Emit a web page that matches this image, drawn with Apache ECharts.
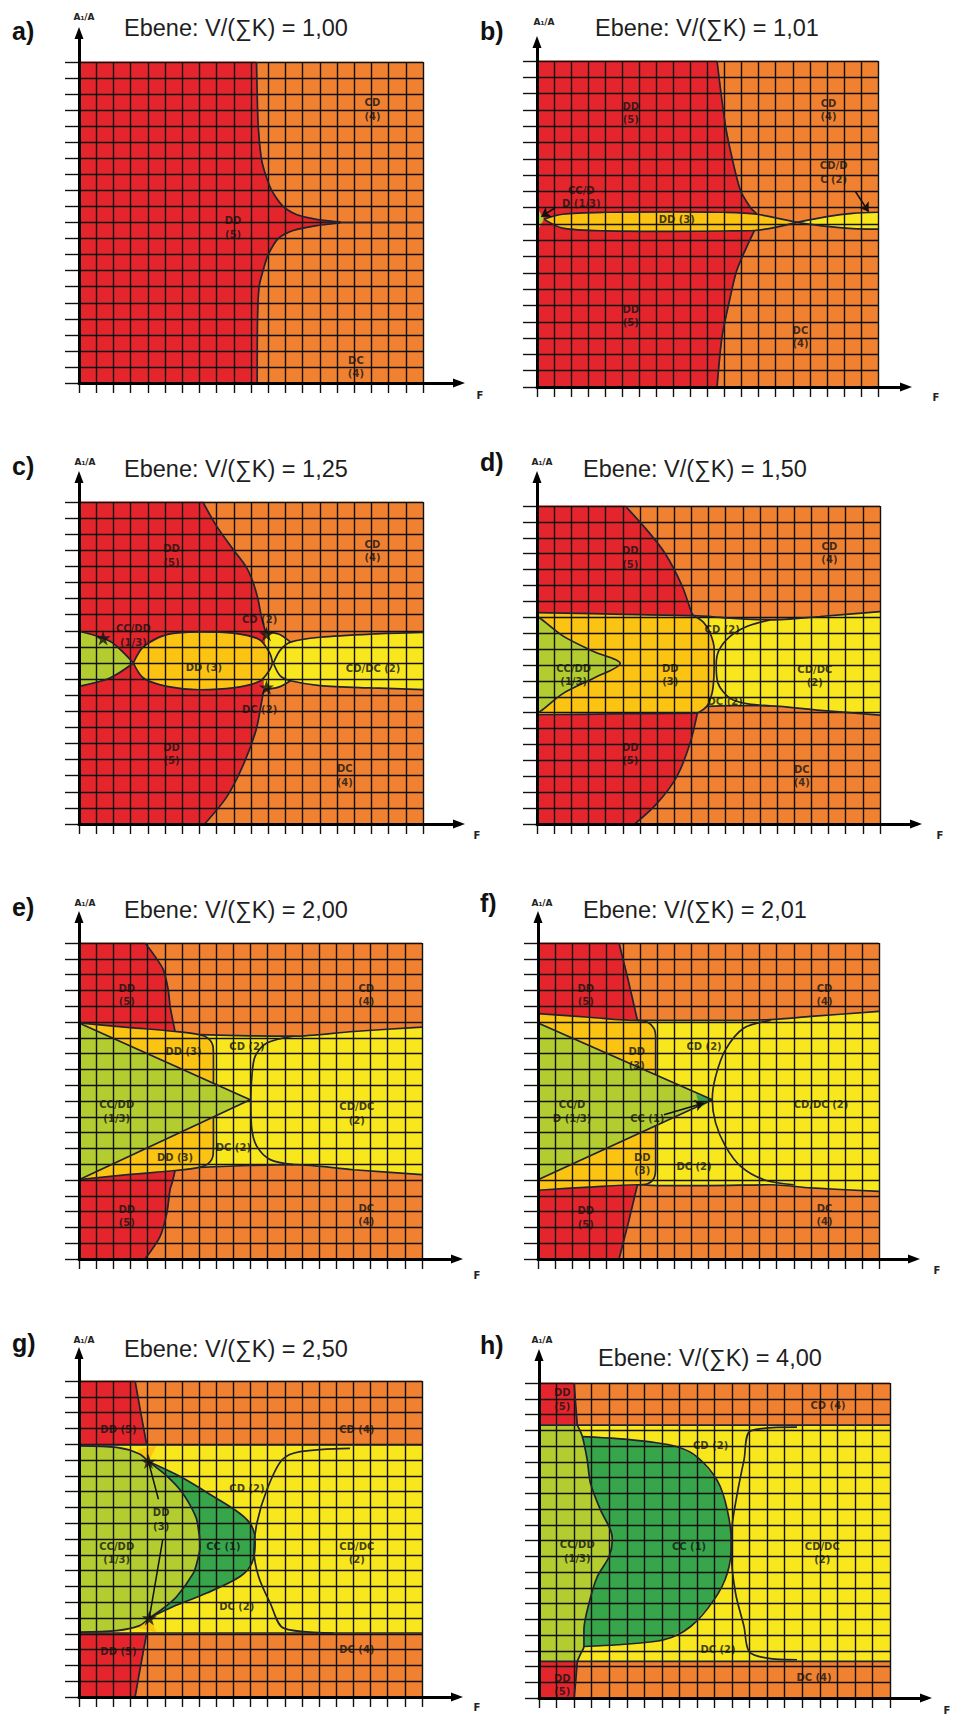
<!DOCTYPE html>
<html><head><meta charset="utf-8">
<script src="https://cdn.jsdelivr.net/npm/echarts@6.0.0/dist/echarts.min.js"></script>
<style>html,body{margin:0;padding:0;background:#fff}#c{width:954px;height:1725px}</style>
</head><body><div id="c"></div>
<script>
// ---------- colours ----------
const RED='#e4262c', ORANGE='#f08131', GOLD='#fbc312', YELLOW='#f9e71e', LGREEN='#b3cc30', DGREEN='#37a64b';
const LINE='#222230';
const FULL=[[0,0],[20,0],[20,20],[0,20]];
const rev=a=>a.slice().reverse();

// ---------- titles ----------
const titles=['Ebene: V/(∑K) = 1,00','Ebene: V/(∑K) = 1,01','Ebene: V/(∑K) = 1,25','Ebene: V/(∑K) = 1,50',
              'Ebene: V/(∑K) = 2,00','Ebene: V/(∑K) = 2,01','Ebene: V/(∑K) = 2,50','Ebene: V/(∑K) = 4,00'];
const letters=['a)','b)','c)','d)','e)','f)','g)','h)'];
const yName='A₁/A', xName='F';

// ---------- panel a ----------
const a_redUpper=[[10.32,20],[10.36,18],[10.42,16],[10.6,14],[10.84,13],[11.2,12],[11.87,11],[12.64,10.5],[13.8,10.2],[15.2,10.03]];
const a_redLower=[[15.2,9.97],[13.8,9.8],[12.45,9.5],[11.58,9],[11.0,8],[10.7,7],[10.47,6],[10.38,4],[10.36,0]];
const a_ridge=[[14.2,10],[20,10]];
const a_labels=[[8.96,9.7,'DD\n(5)'],[17.06,17.05,'CD\n(4)'],[16.1,1.0,'DC\n(4)']];

// ---------- panel b ----------
const b_redUpper=[[10.56,20],[11.05,16.05],[11.44,14.05],[11.93,12.07],[12.5,11.04],[12.9,10.6]];
const b_redLower=[[12.75,9.6],[12.3,8.6],[11.7,7.1],[11.24,5.07],[10.85,3.07],[10.56,0]];
const b_goldTop=[[0.4,10.3],[1.5,10.6],[4,10.72],[8,10.75],[11,10.72],[12.9,10.6],[15.25,10.1]];
const b_goldBot=[[0.4,10.3],[1.5,9.75],[4,9.58],[8,9.55],[11,9.57],[12.75,9.6],[15.25,10.1]];
const b_yelTop=[[15.25,10.1],[17,10.45],[18.5,10.65],[20,10.72]];
const b_yelBot=[[15.25,10.1],[17,9.85],[18.5,9.72],[20,9.68]];
const b_green=[[0,10.95],[0.4,10.3],[0,9.6]];
const b_arrows=[[[1.0,10.95],[0.25,10.45]],[[18.67,12.0],[19.45,10.75]]];
const b_labels=[[5.5,16.8,'DD\n(5)'],[17.1,17.0,'CD\n(4)'],[17.4,13.17,'CD/D\nC (2)'],[2.6,11.66,'CC/D\nD (1/3)'],
                [8.2,10.3,'DD (3)'],[5.5,4.37,'DD\n(5)'],[15.45,3.07,'DC\n(4)']];

// ---------- panel c ----------
const c_redUpper=[[7.2,20],[8.0,18.5],[9.0,17],[9.7,16],[10.1,15.07],[10.4,14],[10.6,12.9],[10.85,11.9]];
const c_redLower=[[10.75,8.35],[10.6,7.5],[10.3,5.86],[9.6,3.8],[8.6,1.7],[7.3,0]];
const c_greenTop=[[0,11.97],[1.8,11.35],[3.16,10]];
const c_greenBot=[[0,8.55],[1.8,9.07],[3.16,10]];
const c_lensTop=[[3.16,10],[3.74,11.0],[5.1,11.76],[7.0,11.93],[8.96,11.86],[10.5,11.45],[11.1,10.6],[11.25,10]];
const c_lensBot=[[3.16,10],[3.74,9.07],[5.1,8.55],[7.0,8.34],[8.96,8.45],[10.5,8.86],[11.1,9.6],[11.25,10]];
const c_bandTop=[[11.3,10],[11.7,10.8],[12.3,11.3],[14,11.6],[17,11.8],[20,11.9]];
const c_bandBot=[[11.3,10],[11.7,9.2],[12.3,8.9],[14,8.6],[17,8.45],[20,8.35]];
const c_capTop=[[10.85,11.9],[11.6,11.8],[12.3,11.3]];
const c_capBot=[[10.75,8.35],[11.6,8.5],[12.3,8.9]];
const c_stars=[[1.4,11.55],[10.9,11.8],[10.9,8.5]];
const c_labels=[[5.38,16.67,'DD\n(5)'],[17.06,16.95,'CD\n(4)'],[3.16,11.7,'CC/DD\n(1/3)'],[10.5,12.7,'CD (2)'],
                [7.26,9.7,'DD (3)'],[17.1,9.63,'CD/DC (2)'],[10.5,7.14,'DC (2)'],[5.38,4.34,'DD\n(5)'],[15.45,3.0,'DC\n(4)']];

// ---------- panel d ----------
const d_redUpper=[[5.15,20],[6.4,18.5],[7.48,17],[8.45,15],[9.03,13.25],[9.13,13.1]];
const d_redLower=[[9.35,6.97],[8.93,5.09],[8.16,3.0],[7.0,1.3],[5.7,0]];
const d_bandTop=[[0,13.3],[4.5,13.2],[9.13,13.1],[11.3,12.95],[13.6,12.84],[16.5,13.05],[20,13.36]];
const d_bandBot=[[0,6.87],[4.5,6.92],[9.35,6.97]];
const d_yelBot=[[9.9,7.4],[11.3,7.45],[13.6,7.43],[16.5,7.15],[20,6.85]];
const d_goldEdge=[[9.13,13.1],[9.7,12.7],[10.1,12.0],[10.33,11.0],[10.33,10.1],[10.3,9.0],[10.2,8.2],[9.9,7.4],[9.35,6.97]];
const d_inner=[[13.6,12.84],[12.3,12.45],[11.26,11.8],[10.6,10.9],[10.45,10.0],[10.55,8.86],[11.26,7.9],[12.3,7.55],[13.6,7.43]];
const d_green=[[0,13.05],[0.19,12.94],[1.55,11.8],[3.3,10.85],[4.85,10.1],[3.3,9.17],[1.55,8.23],[0.19,7.08],[0,7.0]];
const d_labels=[[5.44,16.75,'DD\n(5)'],[17.05,17.05,'CD\n(4)'],[10.8,12.25,'CD (2)'],[2.14,9.38,'CC/DD\n(1/3)'],
                [7.77,9.36,'DD\n(3)'],[16.2,9.3,'CD/DC\n(2)'],[10.97,7.7,'DC (2)'],[5.44,4.41,'DD\n(5)'],[15.44,3.03,'DC\n(4)']];

// ---------- panel e ----------
const e_redUpper=[[3.85,20],[4.4,19.2],[4.92,18.3],[5.2,17.05],[5.31,16.0],[5.45,15.2],[5.6,14.4]];
const e_redLower=[[5.6,5.6],[5.45,4.9],[5.31,4.39],[5.12,2.9],[4.73,1.43],[3.85,0]];
const e_greenTop=[[0,14.94],[9.98,10.08]];
const e_greenBot=[[0,5.02],[9.98,10.08]];
const e_goldTop=[[0,14.94],[3,14.65],[5.6,14.4],[7.0,14.2],[7.55,13.95],[7.82,13.4],[7.84,12.6],[7.84,11.12]];
const e_goldBot=[[0,5.02],[3,5.35],[5.6,5.6],[7.0,5.8],[7.55,6.05],[7.82,6.6],[7.84,7.4],[7.84,8.99]];
const e_yelTop=[[7.0,14.2],[10,14.12],[12.5,14.1],[16,14.4],[20,14.68]];
const e_yelBot=[[7.0,5.8],[10,5.92],[12.5,5.97],[16,5.65],[20,5.34]];
const e_inner=[[12.5,14.1],[10.95,13.67],[10.27,12.83],[10.08,11.56],[10.02,9.87],[10.08,8.19],[10.37,7.13],[11.15,6.29],[12.5,5.97]];
const e_labels=[[2.78,16.7,'DD\n(5)'],[16.75,16.7,'CD\n(4)'],[6.09,13.14,'DD (3)'],[9.79,13.46,'CD (2)'],[2.2,9.35,'CC/DD\n(1/3)'],
                [16.2,9.22,'CD/DC\n(2)'],[9.0,7.03,'DC (2)'],[5.6,6.4,'DD (3)'],[2.78,2.72,'DD\n(5)'],[16.75,2.8,'DC\n(4)']];

// ---------- panel f ----------
const f_redUpper=[[4.75,20],[5.3,17.6],[5.83,15.1]];
const f_redLower=[[5.83,4.7],[5.3,2.3],[4.75,0]];
const f_bandTop=[[0,15.53],[3,15.3],[5.83,15.1],[7,15.1],[10,15.1],[13.65,15.15],[16,15.35],[20,15.67]];
const f_bandBot=[[0,4.35],[3,4.55],[5.83,4.7],[7,4.65],[10,4.65],[13.65,4.7],[16,4.5],[20,4.28]];
const f_greenTop=[[0,14.94],[10.22,10.08]];
const f_greenBot=[[0,5.02],[10.22,10.08]];
const f_goldTopEdge=[[5.83,15.1],[6.4,15.0],[6.8,14.6],[6.9,14.0],[6.9,11.66]];
const f_goldBotEdge=[[5.83,4.7],[6.4,4.75],[6.8,5.1],[6.9,5.8],[6.9,8.44]];
const f_tip=[[9.3,10.4],[10.22,10.08],[9.5,9.6]];
const f_inner=[[13.65,15.1],[12.08,14.62],[11.0,13.25],[10.42,11.56],[10.22,10.08],[10.42,8.6],[11.0,7.13],[11.89,5.86],[13.25,5.02],[15.0,4.7]];
const f_arrows=[[[7.39,9.13],[9.74,9.87]]];
const f_labels=[[2.8,16.7,'DD\n(5)'],[16.8,16.7,'CD\n(4)'],[5.79,12.7,'DD\n(3)'],[9.74,13.46,'CD (2)'],[2.0,9.32,'CC/D\nD (1/3)'],
                [6.41,8.92,'CC (1)'],[16.6,9.77,'CD/DC (2)'],[6.12,6.0,'DD\n(3)'],[9.15,5.86,'DC (2)'],[2.8,2.63,'DD\n(5)'],[16.8,2.8,'DC\n(4)']];

// ---------- panel g ----------
const g_redUpper=[[3.27,20],[3.6,18],[3.95,15.95]];
const g_redLower=[[3.95,4.05],[3.6,2],[3.27,0]];
const g_bandTop=[[0,15.95],[20,15.95]];
const g_bandBot=[[0,4.05],[20,4.05]];
const g_lgTop=[[0,15.9],[2.2,15.8],[3.5,15.4],[4.05,14.9]];
const g_lgBot=[[0,4.1],[2.2,4.2],[3.5,4.5],[4.1,5.0]];
const g_lgEdge=[[4.05,14.9],[5.0,14.1],[5.9,13.1],[6.5,12.1],[6.87,11.2],[7.06,9.5],[6.9,8.6],[6.67,7.84],[5.7,6.36],[4.9,5.6],[4.1,5.0]];
const g_dgEdge=[[4.05,14.9],[5.9,13.95],[7.84,12.69],[9.4,11.6],[10.08,10.8],[10.27,9.74],[10.08,8.47],[9.4,7.63],[7.45,6.58],[5.5,5.73],[4.1,5.0]];
const g_goldBitTop=[[3.4,15.6],[4.5,15.9],[4.05,14.9]];
const g_goldBitBot=[[3.4,4.4],[4.5,4.1],[4.1,5.0]];
const g_inner=[[15.8,15.74],[12.9,15.53],[11.83,15.0],[10.95,13.1],[10.37,11.0],[10.2,9.3],[10.47,7.63],[11.15,5.94],[11.93,4.36],[14.84,4.05]];
const g_leaders=[[[4.63,12.52],[4.05,14.9]],[[4.88,9.95],[4.1,5.0]]];
const g_stars=[[4.05,14.9],[4.1,5.0]];
const g_labels=[[2.3,16.9,'DD (5)'],[16.2,16.9,'CD (4)'],[9.79,13.2,'CD (2)'],[4.79,11.24,'DD\n(3)'],[2.2,9.1,'CC/DD\n(1/3)'],
                [8.42,9.53,'CC (1)'],[16.2,9.1,'CD/DC\n(2)'],[9.2,5.73,'DC (2)'],[2.3,2.89,'DD (5)'],[16.2,3.0,'DC (4)']];

// ---------- panel h ----------
const h_redUpper=[[2.0,20],[2.1,18.5],[2.18,17.32]];
const h_redLower=[[2.18,2.32],[2.1,1.2],[2.0,0]];
const h_bandTop=[[0,17.32],[20,17.32]];
const h_bandBot=[[0,2.32],[20,2.32]];
const h_lgEdge=[[2.18,17.32],[2.47,16.6],[2.75,15.1],[2.94,13.6],[3.51,11.93],[4.08,10.66],[4.18,10.03],[3.99,8.97],[3.32,7.7],[2.85,6.02],[2.56,4.33],[2.56,3.27],[2.37,2.8],[2.18,2.32]];
const h_dgEdge=[[2.47,16.6],[4.46,16.47],[6.36,16.26],[7.88,15.95],[9.02,15.3],[10.16,13.8],[10.73,11.93],[10.96,9.82],[10.73,7.92],[9.97,6.23],[8.64,4.54],[7.12,3.7],[4.46,3.38],[2.56,3.27]];
const h_inner=[[14.7,17.2],[12.06,16.96],[11.68,15.1],[11.3,13.0],[11.0,10.9],[10.96,9.2],[11.2,6.65],[11.68,4.54],[11.97,2.96],[13.0,2.53],[14.7,2.43]];
const h_labels=[[1.33,18.95,'DD\n(5)'],[16.47,18.58,'CD (4)'],[9.78,16.05,'CD (2)'],[2.18,9.29,'CC/DD\n(1/3)'],[8.55,9.65,'CC (1)'],
                [16.14,9.2,'CD/DC\n(2)'],[10.2,3.1,'DC (2)'],[15.67,1.27,'DC (4)'],[1.33,0.82,'DD\n(5)']];

// ---------- panel assembly (layout in pixels) ----------
const panels=[
 {box:[79,423,62,383,465,27], lp:[12,31], tp:[124,28], ap:[84,17], fp:[480,395],
  fills:[[ORANGE,FULL],[RED,[[0,20],...a_redUpper,...a_redLower,[0,0]]]],
  lines:[a_redUpper,a_redLower,a_ridge], labels:a_labels},
 {box:[537,878,61,387,912,36], lp:[480,31], tp:[595,28], ap:[544,22], fp:[936,397],
  fills:[[ORANGE,FULL],[RED,[[0,20],...b_redUpper,...b_redLower,[0,0]]],[GOLD,[...b_goldTop,...rev(b_goldBot)]],
         [YELLOW,[...b_yelTop,...rev(b_yelBot)]],[LGREEN,b_green]],
  lines:[b_redUpper,b_redLower,b_goldTop,b_goldBot,b_yelTop,b_yelBot], labels:b_labels, arrows:b_arrows},
 {box:[79,423,502,824,465,471], lp:[12,466], tp:[124,469], ap:[85,462], fp:[477,835],
  fills:[[ORANGE,FULL],[RED,[[0,20],...c_redUpper,...c_redLower,[0,0]]],
         [YELLOW,[...c_capTop,...c_bandTop.slice(3),...rev(c_bandBot.slice(3)),...rev(c_capBot)]],
         [GOLD,[...c_lensTop,...rev(c_lensBot)]],[LGREEN,[...c_greenTop,...rev(c_greenBot)]]],
  lines:[c_redUpper,c_redLower,c_greenTop,c_greenBot,c_lensTop,c_lensBot,c_bandTop,c_bandBot,c_capTop,c_capBot],
  labels:c_labels, stars:c_stars},
 {box:[537,880,506,824,922,471], lp:[480,462], tp:[583,469], ap:[542,462], fp:[940,835],
  fills:[[ORANGE,FULL],[RED,[[0,20],...d_redUpper,[4.5,13.2],[0,13.3]]],[RED,[[0,6.87],[4.5,6.92],...d_redLower,[0,0]]],
         [YELLOW,[...d_bandTop.slice(2),...rev(d_yelBot),[9.35,6.97]]],
         [GOLD,[[0,13.3],[4.5,13.2],...d_goldEdge,[4.5,6.92],[0,6.87]]],[LGREEN,d_green]],
  lines:[d_redUpper,d_redLower,d_bandTop,d_bandBot,d_yelBot,d_goldEdge,d_inner,d_green], labels:d_labels},
 {box:[79,422,943,1259,463,911], lp:[12,907], tp:[124,910], ap:[85,903], fp:[477,1275],
  fills:[[ORANGE,FULL],[YELLOW,[...e_yelTop,...rev(e_yelBot)]],[RED,[[0,20],...e_redUpper,[3,14.65],[0,14.94]]],
         [RED,[[0,5.02],[3,5.35],...e_redLower,[0,0]]],[GOLD,e_goldTop],[GOLD,e_goldBot],
         [LGREEN,[...e_greenTop,...rev(e_greenBot)]]],
  lines:[e_redUpper,e_redLower,e_greenTop,e_greenBot,e_goldTop,e_goldBot,e_yelTop,e_yelBot,e_inner], labels:e_labels},
 {box:[538,879,943,1259,920,911], lp:[480,903], tp:[583,910], ap:[542,903], fp:[937,1270],
  fills:[[ORANGE,FULL],[RED,[[0,20],...f_redUpper,[3,15.3],[0,15.53]]],[RED,[[0,4.35],[3,4.55],...f_redLower,[0,0]]],
         [YELLOW,[...f_bandTop.slice(2),...rev(f_bandBot.slice(2))]],
         [GOLD,[[0,15.53],[3,15.3],...f_goldTopEdge,[0,14.94]]],[GOLD,[[0,4.35],[3,4.55],...f_goldBotEdge,[0,5.02]]],
         [LGREEN,[...f_greenTop,...rev(f_greenBot)]],[DGREEN,f_tip]],
  lines:[f_redUpper,f_redLower,f_bandTop,f_bandBot,f_greenTop,f_greenBot,f_goldTopEdge,f_goldBotEdge,f_inner],
  labels:f_labels, arrows:f_arrows},
 {box:[79,422,1381,1697,463,1347], lp:[12,1343], tp:[124,1349], ap:[84,1340], fp:[477,1707],
  fills:[[ORANGE,FULL],[RED,[[0,20],...g_redUpper,[0,15.95]]],[RED,[[0,4.05],...g_redLower,[0,0]]],
         [YELLOW,[...g_bandTop,...rev(g_bandBot)]],
         [LGREEN,[...g_lgTop,...g_lgEdge.slice(1),...rev(g_lgBot)]],[DGREEN,[...g_lgEdge,...rev(g_dgEdge)]],
         [GOLD,g_goldBitTop],[GOLD,g_goldBitBot]],
  lines:[g_redUpper,g_redLower,g_bandTop,g_bandBot,g_lgTop,g_lgBot,g_lgEdge,g_dgEdge,g_inner],
  labels:g_labels, leaders:g_leaders, stars:g_stars},
 {box:[539,890,1383,1698,932,1349], lp:[480,1345], tp:[598,1358], ap:[542,1340], fp:[947,1710],
  fills:[[ORANGE,FULL],[RED,[[0,20],...h_redUpper,[0,17.32]]],[RED,[[0,2.32],...h_redLower,[0,0]]],
         [YELLOW,[...h_bandTop,...rev(h_bandBot)]],[LGREEN,[[0,17.32],...h_lgEdge,[0,2.32]]],
         [DGREEN,[...h_dgEdge,...rev(h_lgEdge.slice(1,12))]]],
  lines:[h_redUpper,h_redLower,h_bandTop,h_bandBot,h_lgEdge,h_dgEdge,h_inner], labels:h_labels}
];

// ---------- build option ----------
const STAR='path://M50,0L61,35L98,35L68,57L79,91L50,70L21,91L32,57L2,35L39,35Z';
const grid=[], xAxis=[], yAxis=[], series=[], graphic=[];
const ARW=[9,12];
panels.forEach((p,k)=>{
  const [L,R,T,B,tx,ty]=p.box;
  const gi=2*k, go=2*k+1;
  grid.push({left:L, top:T, width:R-L, height:B-T});
  grid.push({left:L, top:ty+ARW[1]/2, width:tx-ARW[1]/2-L, height:B-(ty+ARW[1]/2)});
  const gl={color:'#111', width:1.4};
  xAxis.push({gridIndex:gi, type:'value', min:0, max:20, interval:1, z:3, axisLine:{show:false},
    axisTick:{show:true, length:10, lineStyle:gl}, axisLabel:{show:false}, splitLine:{show:true, lineStyle:gl}});
  yAxis.push({gridIndex:gi, type:'value', min:0, max:20, interval:1, z:3, axisLine:{show:false},
    axisTick:{show:true, length:14, lineStyle:gl}, axisLabel:{show:false}, splitLine:{show:true, lineStyle:gl}});
  const al={show:true, onZero:true, symbol:['none','triangle'], symbolSize:ARW, lineStyle:{color:'#000', width:3}};
  xAxis.push({gridIndex:go, type:'value', min:0, max:1, z:7, axisLine:al, axisTick:{show:false}, axisLabel:{show:false}, splitLine:{show:false}});
  yAxis.push({gridIndex:go, type:'value', min:0, max:1, z:7, axisLine:al, axisTick:{show:false}, axisLabel:{show:false}, splitLine:{show:false}});

  const fills=p.fills;
  series.push({type:'custom', xAxisIndex:gi, yAxisIndex:gi, z:1, silent:true,
    data:fills.map((f,i)=>[i,0]),
    renderItem:(params,api)=>{
      const f=fills[params.dataIndex];
      return {type:'polygon', shape:{points:f[1].map(pt=>api.coord(pt))}, style:{fill:f[0], stroke:f[0], lineWidth:0.6}};
    }});
  p.lines.forEach(pts=>series.push({type:'line', xAxisIndex:gi, yAxisIndex:gi, data:pts, smooth:0.3, symbol:'none',
    lineStyle:{color:LINE, width:1.7}, z:4, silent:true}));
  if(p.leaders) series.push({type:'lines', coordinateSystem:'cartesian2d', xAxisIndex:gi, yAxisIndex:gi, z:5, silent:true,
    symbol:['none','none'], lineStyle:{color:'#111', width:1.5, opacity:1}, data:p.leaders.map(c=>({coords:c}))});
  if(p.arrows) series.push({type:'lines', coordinateSystem:'cartesian2d', xAxisIndex:gi, yAxisIndex:gi, z:5, silent:true,
    symbol:['none','arrow'], symbolSize:9, lineStyle:{color:'#111', width:1.6, opacity:1}, data:p.arrows.map(c=>({coords:c}))});
  if(p.stars) series.push({type:'scatter', xAxisIndex:gi, yAxisIndex:gi, z:5, silent:true, symbol:STAR, symbolSize:15,
    itemStyle:{color:'#111'}, data:p.stars});
  series.push({type:'scatter', xAxisIndex:gi, yAxisIndex:gi, z:6, silent:true, symbolSize:1,
    itemStyle:{color:'rgba(0,0,0,0)'},
    data:p.labels.map(l=>({value:[l[0],l[1]], name:l[2]})),
    label:{show:true, position:'inside', formatter:'{b}', color:'#141414', fontFamily:'DejaVu Sans',
      fontWeight:'bold', fontSize:10, lineHeight:13.5, align:'center', verticalAlign:'middle'}});

  graphic.push({type:'text', x:p.lp[0], y:p.lp[1], z:10, style:{text:letters[k], fontSize:25, fontWeight:'bold',
    fontFamily:'Liberation Sans', fill:'#111', align:'left', verticalAlign:'middle'}});
  graphic.push({type:'text', x:p.tp[0], y:p.tp[1], z:10, style:{text:titles[k], fontSize:23.5,
    fontFamily:'Liberation Sans', fill:'#1e1e1e', align:'left', verticalAlign:'middle'}});
  graphic.push({type:'text', x:p.ap[0], y:p.ap[1], z:10, style:{text:yName, fontSize:9, fontWeight:'bold',
    fontFamily:'DejaVu Sans', fill:'#222', align:'center', verticalAlign:'middle'}});
  graphic.push({type:'text', x:p.fp[0], y:p.fp[1], z:10, style:{text:xName, fontSize:10, fontWeight:'bold',
    fontFamily:'DejaVu Sans', fill:'#222', align:'center', verticalAlign:'middle'}});
});

const chart=echarts.init(document.getElementById('c'), null, {renderer:'svg', width:954, height:1725});
chart.setOption({animation:false, backgroundColor:'#fff', grid, xAxis, yAxis, series, graphic});
</script></body></html>
